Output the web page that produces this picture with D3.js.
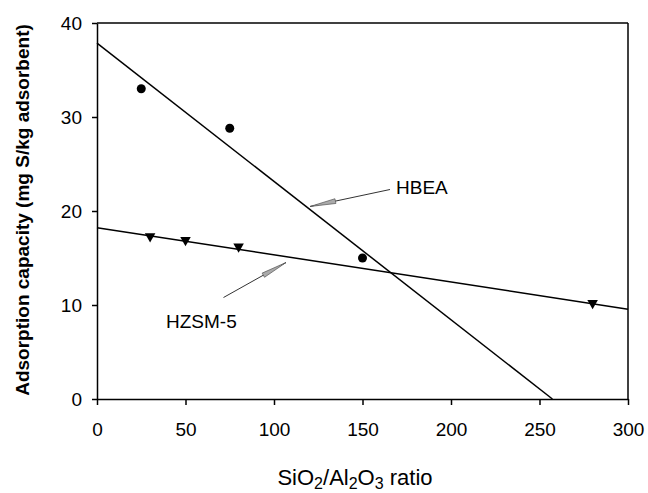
<!DOCTYPE html>
<html>
<head>
<meta charset="utf-8">
<script src="https://cdn.jsdelivr.net/npm/d3@7"></script>
<style>
  html, body { margin: 0; padding: 0; background: #fff; }
  svg { display: block; font-family: "Liberation Sans", Arial, sans-serif; }
</style>
</head>
<body>
<svg id="chart" width="648" height="493"></svg>
<script>
// ---- data ----
const hbeaRatio = [25, 75, 150];
const hbeaCapacity = [33.0, 28.8, 15.0];
const hzsmRatio = [30, 50, 80, 280];
const hzsmCapacity = [17.2, 16.8, 16.1, 10.1];
const xTicks = [0, 50, 100, 150, 200, 250, 300];
const yTicks = [0, 10, 20, 30, 40];
const seriesLabels = ["HBEA", "HZSM-5"];

// ---- helpers ----
function linReg(xs, ys) {
  const n = xs.length;
  const mx = d3.mean(xs), my = d3.mean(ys);
  let sxy = 0, sxx = 0;
  for (let i = 0; i < n; i++) { sxy += (xs[i]-mx)*(ys[i]-my); sxx += (xs[i]-mx)**2; }
  const m = sxy / sxx;
  return { m, b: my - m*mx };
}

const svg = d3.select("#chart");
const x = d3.scaleLinear().domain([0, 300]).range([97, 628]);
const y = d3.scaleLinear().domain([0, 40]).range([399, 23]);

// frame (top & right)
svg.append("line").attr("x1", x(0)).attr("x2", x(300)).attr("y1", y(40)).attr("y2", y(40))
  .attr("stroke", "#000").attr("stroke-width", 1.5);
svg.append("line").attr("x1", x(300)).attr("x2", x(300)).attr("y1", y(40)).attr("y2", y(0))
  .attr("stroke", "#000").attr("stroke-width", 1.5);

// axes
const xAxis = svg.append("g").attr("transform", `translate(0,${y(0)})`)
  .call(d3.axisBottom(x).tickValues(xTicks).tickSize(6).tickPadding(18).tickSizeOuter(0));
const yAxis = svg.append("g").attr("transform", `translate(${x(0)},0)`)
  .call(d3.axisLeft(y).tickValues(yTicks).tickSize(5).tickPadding(10).tickSizeOuter(0));
[xAxis, yAxis].forEach(g => {
  g.select(".domain").attr("stroke", "#000").attr("stroke-width", 1.5);
  g.selectAll(".tick line").attr("stroke", "#000").attr("stroke-width", 1.5);
  g.selectAll(".tick text").attr("fill", "#000").style("font-size", "19px")
    .style("font-family", "'Liberation Sans', Arial, sans-serif");
});
xAxis.selectAll(".tick text").attr("dy", "0.71em");

// regression lines
const r1 = linReg(hbeaRatio, hbeaCapacity);
const r2 = linReg(hzsmRatio, hzsmCapacity);
const x1end = Math.min(300, -r1.b / r1.m);
svg.append("line")
  .attr("x1", x(0)).attr("y1", y(r1.b))
  .attr("x2", x(x1end)).attr("y2", y(r1.m*x1end + r1.b))
  .attr("stroke", "#000").attr("stroke-width", 1.5);
svg.append("line")
  .attr("x1", x(0)).attr("y1", y(r2.b))
  .attr("x2", x(300)).attr("y2", y(r2.m*300 + r2.b))
  .attr("stroke", "#000").attr("stroke-width", 1.5);

// markers
svg.append("g").selectAll("circle").data(hbeaRatio).join("circle")
  .attr("cx", d => x(d)).attr("cy", (d, i) => y(hbeaCapacity[i])).attr("r", 4.5).attr("fill", "#000");
const tri = d3.symbol().type(d3.symbolTriangle).size(48);
svg.append("g").selectAll("path").data(hzsmRatio).join("path")
  .attr("d", tri)
  .attr("transform", (d, i) => `translate(${x(d)},${y(hzsmCapacity[i]) - 1}) rotate(180)`)
  .attr("fill", "#000");

// annotation arrows
function arrow(xs, ys, xe, ye) {
  svg.append("line").attr("x1", xs).attr("y1", ys).attr("x2", xe).attr("y2", ye)
    .attr("stroke", "#333").attr("stroke-width", 1);
  const ang = Math.atan2(ys - ye, xs - xe);
  const L = 26, W = 2.4;
  const bx = xe + L*Math.cos(ang), by = ye + L*Math.sin(ang);
  const px = -Math.sin(ang)*W, py = Math.cos(ang)*W;
  svg.append("path")
    .attr("d", `M${xe},${ye}L${bx+px},${by+py}L${bx-px},${by-py}Z`)
    .attr("fill", "#aaa").attr("stroke", "#555").attr("stroke-width", 0.7);
}
arrow(390, 189.5, 310, 206.5);
arrow(223.5, 297.5, 286, 262.5);

svg.append("text").attr("x", 396).attr("y", 194).style("font-size", "19px").text(seriesLabels[0]);
svg.append("text").attr("x", 166).attr("y", 328).style("font-size", "19px").text(seriesLabels[1]);

// axis titles
const xt = svg.append("text").attr("x", 355).attr("y", 485).attr("text-anchor", "middle").style("font-size", "22px");
xt.append("tspan").text("SiO");
xt.append("tspan").attr("dy", 4).style("font-size", "16px").text("2");
xt.append("tspan").attr("dy", -4).text("/Al");
xt.append("tspan").attr("dy", 4).style("font-size", "16px").text("2");
xt.append("tspan").attr("dy", -4).text("O");
xt.append("tspan").attr("dy", 4).style("font-size", "16px").text("3");
xt.append("tspan").attr("dy", -4).text(" ratio");

svg.append("text")
  .attr("transform", `translate(29,210) rotate(-90)`)
  .attr("text-anchor", "middle")
  .style("font-size", "19px").style("font-weight", "bold")
  .text("Adsorption capacity (mg S/kg adsorbent)");
</script>
</body>
</html>
